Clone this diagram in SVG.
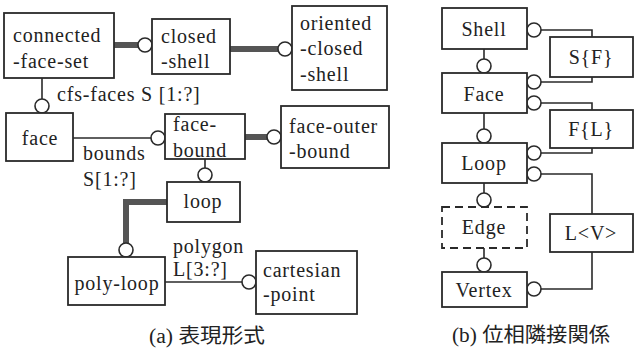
<svg xmlns="http://www.w3.org/2000/svg" width="634" height="352" viewBox="0 0 634 352">
<style>
.b{fill:#fff;stroke:#2a2a2a;stroke-width:1.8}
.d{fill:#fff;stroke:#2a2a2a;stroke-width:1.8;stroke-dasharray:8 5}
.m{text-anchor:middle}
.l{fill:none;stroke:#2a2a2a;stroke-width:1.6}
.k{fill:none;stroke:#555;stroke-width:6}
.c{fill:#fff;stroke:#2a2a2a;stroke-width:1.6}
text{font-family:"Liberation Serif",serif;font-size:20px;letter-spacing:0.8px;fill:#222}
text.cap{font-family:"Liberation Serif","Noto Sans CJK JP",serif;font-size:20px;letter-spacing:0}
</style>
<rect width="634" height="352" fill="#fff"/>
<g id="connectors">
<path class="k" d="M114,45H138"/><circle class="c" cx="145" cy="45" r="7"/>
<path class="k" d="M230,49H278"/><circle class="c" cx="285" cy="49" r="7"/>
<path class="l" d="M42,78V99"/><circle class="c" cx="42" cy="106" r="7"/>
<path class="l" d="M73,138H151"/><circle class="c" cx="158" cy="138" r="7"/>
<path class="k" d="M245,137H267"/><circle class="c" cx="274" cy="137" r="7"/>
<path class="l" d="M205,159V168"/><circle class="c" cx="205" cy="175" r="7"/>
<path class="k" d="M167,202H126V243"/><circle class="c" cx="126" cy="250" r="7"/>
<path class="l" d="M165,282H242"/><circle class="c" cx="249" cy="282" r="7"/>
<path class="l" d="M484,49V59"/><circle class="c" cx="484" cy="66" r="7"/>
<path class="l" d="M484,113V129"/><circle class="c" cx="484" cy="136" r="7"/>
<path class="l" d="M484,183V193"/><circle class="c" cx="484" cy="200" r="7"/>
<path class="l" d="M484,248V258"/><circle class="c" cx="484" cy="265" r="7"/>
<path class="l" d="M541,30H592V37"/><circle class="c" cx="534" cy="30" r="7"/>
<path class="l" d="M592,77V82H541"/><circle class="c" cx="534" cy="82" r="7"/>
<path class="l" d="M541,103H592V110"/><circle class="c" cx="534" cy="103" r="7"/>
<path class="l" d="M592,148V153H541"/><circle class="c" cx="534" cy="153" r="7"/>
<path class="l" d="M541,174H592V214"/><circle class="c" cx="534" cy="174" r="7"/>
<path class="l" d="M592,252V289H541"/><circle class="c" cx="534" cy="289" r="7"/>
<text x="57" y="101">cfs-faces S [1:?]</text>
<text x="83" y="160">bounds</text>
<text x="83" y="186">S[1:?]</text>
<text x="173" y="253">polygon</text>
<text x="173" y="276">L[3:?]</text>
</g>
<g id="connected-face-set"><rect class="b" x="4" y="13" width="110" height="65"/><text x="13" y="42">connected</text><text x="13" y="68">-face-set</text></g>
<g id="closed-shell"><rect class="b" x="152" y="19" width="78" height="55"/><text x="161" y="43">closed</text><text x="161" y="68">-shell</text></g>
<g id="oriented-closed-shell"><rect class="b" x="292" y="6" width="95" height="84"/><text x="300" y="30">oriented</text><text x="300" y="55">-closed</text><text x="300" y="81">-shell</text></g>
<g id="face"><rect class="b" x="6" y="113" width="67" height="48"/><text class="m" x="40" y="145">face</text></g>
<g id="face-bound"><rect class="b" x="165" y="114" width="80" height="45"/><text x="173" y="131">face-</text><text x="173" y="157">bound</text></g>
<g id="face-outer-bound"><rect class="b" x="281" y="106" width="108" height="62"/><text x="289" y="133">face-outer</text><text x="289" y="158">-bound</text></g>
<g id="loop"><rect class="b" x="167" y="182" width="73" height="40"/><text class="m" x="203" y="208">loop</text></g>
<g id="poly-loop"><rect class="b" x="68" y="257" width="97" height="48"/><text class="m" x="117" y="290">poly-loop</text></g>
<g id="cartesian-point"><rect class="b" x="256" y="251" width="101" height="63"/><text x="263" y="277">cartesian</text><text x="263" y="301">-point</text></g>
<g id="Shell"><rect class="b" x="442" y="8" width="85" height="41"/><text class="m" x="484" y="36">Shell</text></g>
<g id="Face"><rect class="b" x="442" y="73" width="85" height="40"/><text class="m" x="484" y="101">Face</text></g>
<g id="Loop"><rect class="b" x="442" y="143" width="85" height="40"/><text class="m" x="484" y="170">Loop</text></g>
<g id="Edge"><rect class="d" x="442" y="207" width="85" height="41"/><text class="m" x="484" y="234">Edge</text></g>
<g id="Vertex"><rect class="b" x="442" y="272" width="85" height="35"/><text class="m" x="484" y="297">Vertex</text></g>
<g id="SF"><rect class="b" x="550" y="37" width="83" height="40"/><text class="m" x="591" y="64">S{F}</text></g>
<g id="FL"><rect class="b" x="550" y="110" width="83" height="38"/><text class="m" x="591" y="136">F{L}</text></g>
<g id="LV"><rect class="b" x="550" y="214" width="83" height="38"/><text class="m" x="591" y="240">L&lt;V&gt;</text></g>
<text class="cap" x="149" y="343" textLength="116" lengthAdjust="spacingAndGlyphs">(a) 表現形式</text>
<text class="cap" x="452" y="342" textLength="158" lengthAdjust="spacingAndGlyphs">(b) 位相隣接関係</text>
</svg>
